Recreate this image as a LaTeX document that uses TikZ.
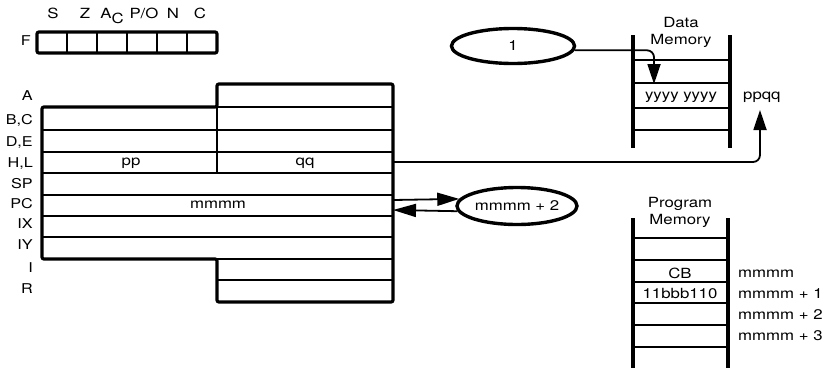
\documentclass[tikz,border=0pt]{standalone}
\usepackage{fontspec}
\setmainfont{TeX Gyre Heros}[FakeStretch=1.2]
\usetikzlibrary{arrows.meta,shapes.geometric}
\begin{document}
\begin{tikzpicture}[x=1pt,y=-1pt,
  thinline/.style={line width=1.8pt},
  thickline/.style={line width=3.2pt},
  lbl/.style={font=\fontsize{14}{16}\selectfont, inner sep=0pt, anchor=base},
  rlbl/.style={font=\fontsize{13.5}{15}\selectfont, inner sep=0pt, anchor=base east},
  llbl/.style={font=\fontsize{14}{16}\selectfont, inner sep=0pt, anchor=base west},
  oval/.style={ellipse, draw, line width=3.4pt, inner sep=0pt, font=\fontsize{14}{16}\selectfont},
  arr/.style={line width=1.8pt, -{Triangle[length=20pt,width=13pt]}},
]
\useasboundingbox (0,0) rectangle (827,370);

% ---------- flag register ----------
\foreach \i in {1,...,5} \draw[thinline] (37+30*\i,32) -- (37+30*\i,53);
\draw[thickline, rounded corners=2pt] (37,32) rectangle (217,53);
\node[lbl] (fS) at (53,18) {S};
\node[lbl] (fZ) at (85,18) {Z};
\node[lbl] (fA) at (112,18) {A\raisebox{-5pt}{C}};
\node[lbl] (fP) at (144,18) {P/O};
\node[lbl] (fN) at (173,18) {N};
\node[lbl] (fC) at (200,18) {C};
\node[rlbl] (fF) at (31,45) {F};

% ---------- main registers ----------
\foreach \y in {130,152,173,195,216,237} \draw[thinline] (42,\y) -- (393,\y);
\foreach \y in {107,259,280} \draw[thinline] (217,\y) -- (393,\y);
\draw[thinline] (217,107) -- (217,173);
\draw[thickline, rounded corners=2pt] (42,107) -- (217,107) -- (217,84) -- (393,84)
  -- (393,302) -- (217,302) -- (217,259) -- (42,259) -- cycle;

\node[rlbl] (rA)  at (33,100) {A};
\node[rlbl] (rBC) at (33,124) {B,C};
\node[rlbl] (rDE) at (33,146) {D,E};
\node[rlbl] (rHL) at (33,167) {H,L};
\node[rlbl] (rSP) at (33,188) {SP};
\node[rlbl] (rPC) at (33,208) {PC};
\node[rlbl] (rIX) at (33,228) {IX};
\node[rlbl] (rIY) at (33,249) {IY};
\node[rlbl] (rI)  at (33,272) {I};
\node[rlbl] (rR)  at (33,293) {R};

\node[lbl] (pp) at (131,165) {pp};
\node[lbl] (qq) at (305,165) {qq};
\node[lbl] (mm) at (218,208) {mmmm};

\coordinate (hlR) at (393,162);
\coordinate (pcOut) at (393,200);
\coordinate (pcIn) at (393,210);

% ---------- data memory ----------
\draw[thickline] (633,35) -- (633,148);
\draw[thickline] (730,35) -- (730,148);
\foreach \y in {60,83,108,130} \draw[thinline] (633,\y) -- (730,\y);
\node[lbl] (dmA) at (681,27) {Data};
\node[lbl] (dmB) at (681,44) {Memory};
\node[lbl] (yy) at (681,99) {yyyy yyyy};
\node[llbl] (ppqq) at (743,99) {ppqq};
\coordinate (dmTip) at (654,84);
\coordinate (ppTip) at (760,110);

% ---------- program memory ----------
\draw[thickline] (633,218) -- (633,368);
\draw[thickline] (728,218) -- (728,368);
\foreach \y in {238,260,282,303,325,347} \draw[thinline] (633,\y) -- (728,\y);
\node[lbl] (pmA) at (680,207) {Program};
\node[lbl] (pmB) at (680,224) {Memory};
\node[lbl] (cb) at (680,278) {CB};
\node[lbl] (op) at (680,298) {11bbb110};
\node[llbl] (m0) at (738,277) {mmmm};
\node[llbl] (m1) at (738,298) {mmmm + 1};
\node[llbl] (m2) at (738,319) {mmmm + 2};
\node[llbl] (m3) at (738,340) {mmmm + 3};

% ---------- ovals ----------
\node[oval, minimum width=123pt, minimum height=35pt] (e1) at (513,46) {1};
\node[oval, minimum width=120pt, minimum height=37pt] (e2) at (517,206) {mmmm + 2};

% ---------- connectors ----------
\draw[arr, rounded corners=7pt] (e1.-4) -| (dmTip);
\draw[arr, rounded corners=7pt] (hlR) -| (ppTip);
\draw[line width=1.8pt, -{Triangle[length=22pt,width=13pt]}] (pcOut) -- (e2.173);
\draw[line width=1.8pt, -{Triangle[length=23pt,width=13pt]}] (e2.185) -- (pcIn);
\end{tikzpicture}
\end{document}
